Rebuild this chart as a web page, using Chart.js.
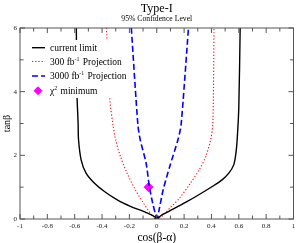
<!DOCTYPE html>
<html>
<head>
<meta charset="utf-8">
<script src="https://cdn.jsdelivr.net/npm/chart.js@4.4.1/dist/chart.umd.min.js"></script>
<style>
  html, body { margin: 0; padding: 0; background: #fff; }
  #wrap { width: 299px; height: 243px; }
</style>
</head>
<body>
<div id="wrap"><canvas id="chart" width="299" height="243"></canvas></div>
<script>
const titleText = 'Type-I';
const subtitleText = '95% Confidence Level';
const xTitle = 'cos(β-α)';
const yTitle = 'tanβ';

const xTicks = [-1, -0.8, -0.6, -0.4, -0.2, 0, 0.2, 0.4, 0.6, 0.8, 1];
const xTickLabels = ['-1', '-0.8', '-0.6', '-0.4', '-0.2', '0', '0.2', '0.4', '0.6', '0.8', '1'];
const xMinorTicks = [-0.9, -0.7, -0.5, -0.3, -0.1, 0.1, 0.3, 0.5, 0.7, 0.9];
const yTicks = [0, 2, 4, 6];
const yTickLabels = ['0', '2', '4', '6'];
const yMinorTicks = [1, 3, 5];

// legend labels, ^{..} marks a superscript
const legendLabels = ['current limit', '300 fb^{-1} Projection', '3000 fb^{-1} Projection', 'χ^{2} minimum'];

// current limit contour
const currentX = [-0.588, -0.584, -0.575, -0.572, -0.553, -0.517, -0.457, -0.385, -0.289, -0.193, -0.097, -0.025, 0, 0.047, 0.119, 0.214, 0.311, 0.406, 0.478, 0.527, 0.563, 0.579, 0.588, 0.600, 0.610];
const currentY = [6, 4, 3, 2.49, 1.86, 1.44, 1.13, 0.87, 0.60, 0.40, 0.24, 0.10, 0.03, 0.15, 0.31, 0.53, 0.77, 1.02, 1.23, 1.44, 1.70, 2.07, 2.49, 3.5, 6];

// 300 fb-1 projection
const proj300X = [-0.368, -0.344, -0.32, -0.301, -0.265, -0.217, -0.157, -0.097, -0.037, 0, 0.035, 0.095, 0.167, 0.239, 0.311, 0.358, 0.394, 0.41, 0.419];
const proj300Y = [6, 3.8, 2.96, 2.49, 1.96, 1.44, 0.92, 0.50, 0.13, 0.02, 0.08, 0.34, 0.66, 1.08, 1.55, 1.96, 2.49, 3, 6];

// 3000 fb-1 projection
const proj3000X = [-0.186, -0.138, -0.121, -0.078, -0.054, -0.030, -0.012, 0.003, 0.015, 0.047, 0.095, 0.155, 0.178, 0.232];
const proj3000Y = [6, 2.96, 2.49, 1.76, 1.02, 0.50, 0.2, 0.03, 0.24, 0.92, 1.65, 2.49, 2.96, 6];

// chi2 minimum and SM point
const chi2MinX = [-0.06];
const chi2MinY = [1.0];
const smX = [0];
const smY = [0.04];

const pts = (xs, ys) => xs.map((x, i) => ({ x: x, y: ys[i] }));
const serif = '"Liberation Serif", "Times New Roman", serif';

const datasets = [
  { label: legendLabels[0], data: pts(currentX, currentY), showLine: true, borderColor: '#000', borderWidth: 1.4, pointRadius: 0, tension: 0.3, kind: 'line' },
  { label: legendLabels[1], data: pts(proj300X, proj300Y), showLine: true, borderColor: '#ff0000', borderWidth: 1.1, borderDash: [1.2, 2], pointRadius: 0, tension: 0.3, kind: 'line' },
  { label: legendLabels[2], data: pts(proj3000X, proj3000Y), showLine: true, borderColor: '#0000ff', borderWidth: 1.6, borderDash: [6, 3], pointRadius: 0, tension: 0.25, kind: 'line' },
  { label: legendLabels[3], data: pts(chi2MinX, chi2MinY), showLine: false, pointStyle: 'rectRot', pointRadius: 4.5, backgroundColor: '#ff00ff', borderColor: '#ff00ff', kind: 'point' },
  { label: 'SM', data: pts(smX, smY), showLine: false, pointStyle: 'triangle', pointRadius: 2.5, backgroundColor: '#000', borderColor: '#000', kind: 'none' }
];

function drawRich(ctx, str, x, y, size) {
  const parts = str.split(/\^\{([^}]*)\}/);
  ctx.textAlign = 'left';
  ctx.textBaseline = 'alphabetic';
  for (let i = 0; i < parts.length; i++) {
    const sup = i % 2 === 1;
    ctx.font = (sup ? size * 0.62 : size) + 'px ' + serif;
    ctx.fillText(parts[i], x, sup ? y - size * 0.42 : y);
    x += ctx.measureText(parts[i]).width + (sup ? 1 : 0);
  }
}

const legendBox = {
  id: 'legendBox',
  afterDatasetsDraw(chart) {
    const ctx = chart.ctx;
    ctx.save();
    ctx.fillStyle = '#fff';
    ctx.fillRect(28, 40, 102, 58);
    const rows = [47.7, 61.5, 76, 90.7];
    chart.data.datasets.forEach((ds, i) => {
      if (ds.kind === 'none') return;
      const y = rows[i];
      if (ds.kind === 'line') {
        ctx.beginPath();
        ctx.strokeStyle = ds.borderColor;
        ctx.lineWidth = ds.borderWidth;
        ctx.setLineDash(ds.borderDash || []);
        ctx.moveTo(32, y);
        ctx.lineTo(45, y);
        ctx.stroke();
        ctx.setLineDash([]);
      } else {
        ctx.fillStyle = ds.backgroundColor;
        ctx.beginPath();
        ctx.moveTo(38, y - 4.5);
        ctx.lineTo(42.5, y);
        ctx.lineTo(38, y + 4.5);
        ctx.lineTo(33.5, y);
        ctx.closePath();
        ctx.fill();
      }
      ctx.fillStyle = '#000';
      drawRich(ctx, ds.label, 50, y + 3.3, 9.5);
    });
    ctx.restore();
  }
};

const frame = {
  id: 'frame',
  afterDraw(chart) {
    const ctx = chart.ctx;
    const a = chart.chartArea;
    const xs = chart.scales.x, ys = chart.scales.y;
    ctx.save();
    ctx.strokeStyle = '#555';
    ctx.lineWidth = 1;
    ctx.strokeRect(a.left, a.top, a.right - a.left, a.bottom - a.top);
    ctx.beginPath();
    const xt = (vals, len) => vals.forEach(v => {
      const px = xs.getPixelForValue(v);
      ctx.moveTo(px, a.bottom); ctx.lineTo(px, a.bottom - len);
      ctx.moveTo(px, a.top); ctx.lineTo(px, a.top + len);
    });
    const yt = (vals, len) => vals.forEach(v => {
      const py = ys.getPixelForValue(v);
      ctx.moveTo(a.left, py); ctx.lineTo(a.left + len, py);
      ctx.moveTo(a.right, py); ctx.lineTo(a.right - len, py);
    });
    xt(xTicks, 5); xt(xMinorTicks, 3.5);
    yt(yTicks, 5); yt(yMinorTicks, 3.5);
    ctx.stroke();

    const cx = (a.left + a.right) / 2;
    const cy = (a.top + a.bottom) / 2;
    ctx.fillStyle = '#000';
    ctx.textAlign = 'center';
    ctx.textBaseline = 'alphabetic';
    ctx.font = '12px ' + serif;
    ctx.fillText(titleText, cx, 11.5);
    ctx.font = '7.7px ' + serif;
    ctx.fillText(subtitleText, cx, 21);
    ctx.font = '11.5px ' + serif;
    ctx.fillText(xTitle, cx, 240.5);
    ctx.translate(7, cy);
    ctx.rotate(-Math.PI / 2);
    ctx.textBaseline = 'middle';
    ctx.font = '10px ' + serif;
    ctx.fillText(yTitle, 0, 0);
    ctx.restore();
  }
};

new Chart(document.getElementById('chart'), {
  type: 'scatter',
  data: { datasets: datasets },
  options: {
    responsive: false,
    animation: false,
    devicePixelRatio: 1,
    layout: { padding: { top: 28, right: 2, left: 0, bottom: 0 } },
    plugins: { legend: { display: false }, tooltip: { enabled: false } },
    scales: {
      x: {
        type: 'linear', min: -1, max: 1,
        afterBuildTicks: s => { s.ticks = xTicks.map(v => ({ value: v })); },
        afterFit: s => { s.height = 24; },
        grid: { display: false, drawTicks: false },
        border: { display: false },
        ticks: {
          autoSkip: false, maxRotation: 0, padding: 3, color: '#222',
          font: { family: serif, size: 7 },
          callback: v => xTickLabels[xTicks.indexOf(v)]
        }
      },
      y: {
        type: 'linear', min: 0, max: 6,
        afterBuildTicks: s => { s.ticks = yTicks.map(v => ({ value: v })); },
        afterFit: s => { s.width = 20; },
        grid: { display: false, drawTicks: false },
        border: { display: false },
        ticks: {
          autoSkip: false, padding: 3, color: '#222',
          font: { family: serif, size: 7 },
          callback: v => yTickLabels[yTicks.indexOf(v)]
        }
      }
    }
  },
  plugins: [legendBox, frame]
});
</script>
</body>
</html>
